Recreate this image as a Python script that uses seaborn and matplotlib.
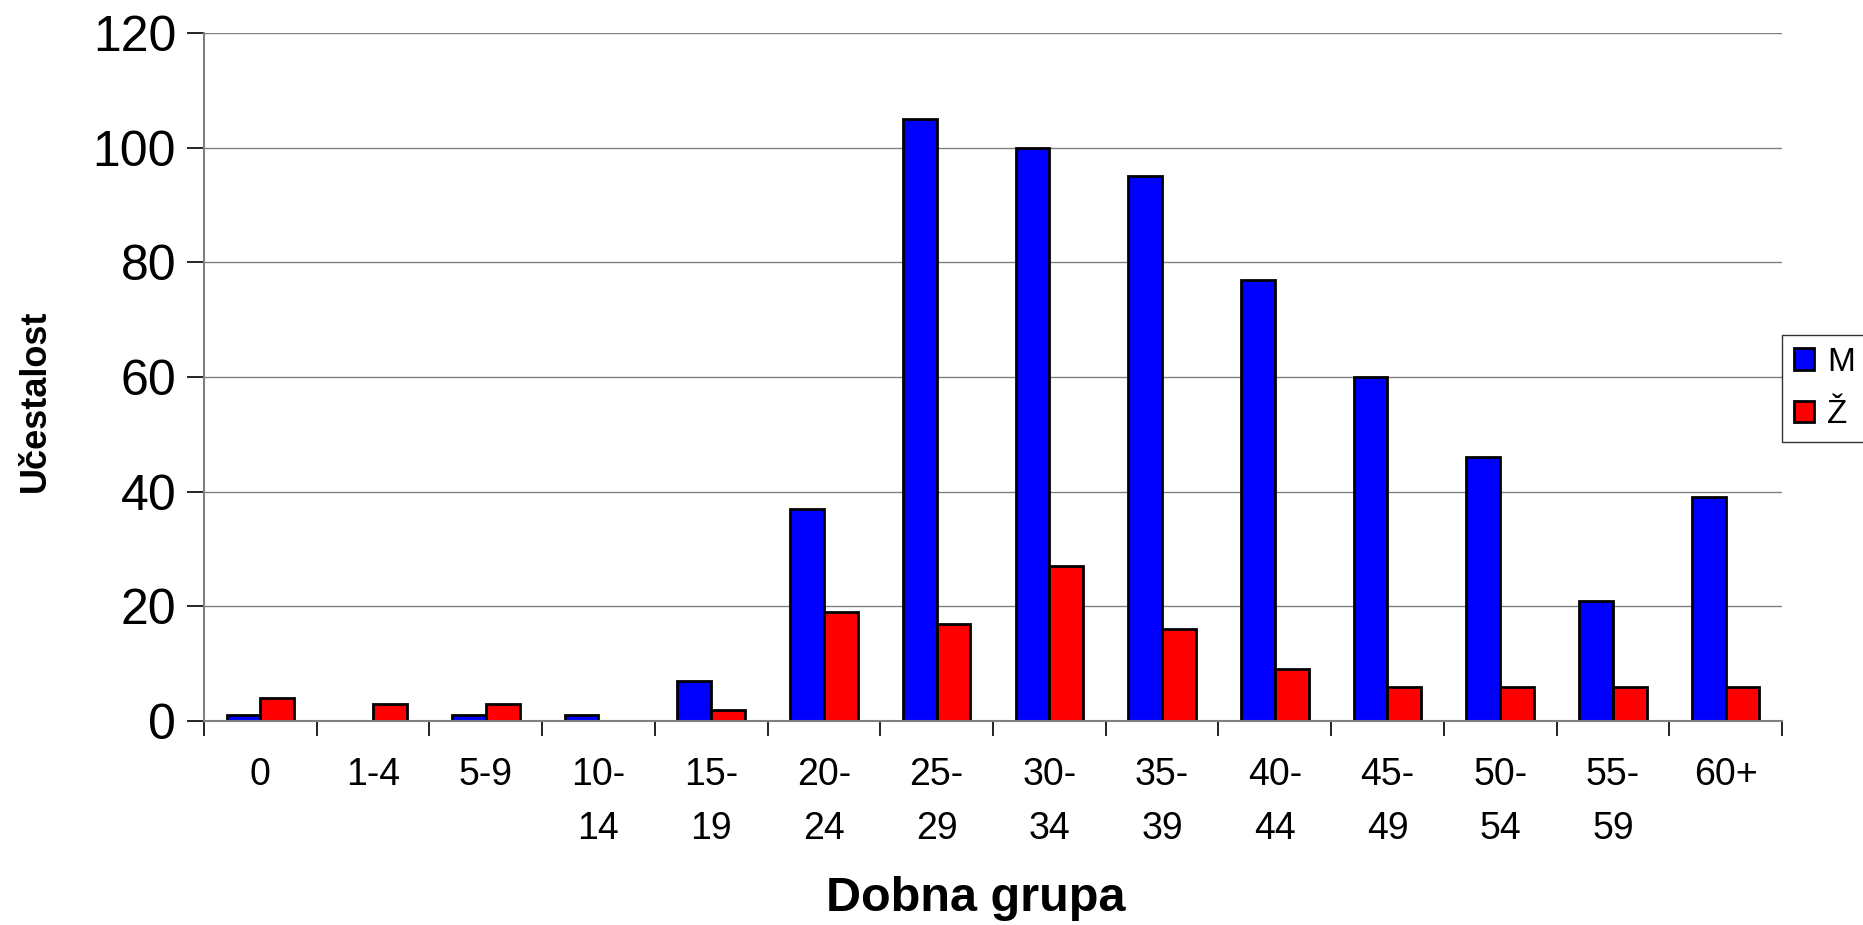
import matplotlib
matplotlib.use("Agg")
import matplotlib.pyplot as plt
import numpy as np
import pandas as pd
import seaborn as sns

# ── Data ─────────────────────────────────────────────────────────────────────
groups = ["0", "1-4", "5-9", "10-\n14", "15-\n19", "20-\n24", "25-\n29",
          "30-\n34", "35-\n39", "40-\n44", "45-\n49", "50-\n54", "55-\n59", "60+"]
male = [1, 0, 1, 1, 7, 37, 105, 100, 95, 77, 60, 46, 21, 39]
female = [4, 3, 3, 0, 2, 19, 17, 27, 16, 9, 6, 6, 6, 6]
series = ["M", "Ž"]
colors = ["#0000FF", "#FF0000"]

df = pd.DataFrame({
    "grupa": groups * 2,
    "spol": [series[0]] * len(groups) + [series[1]] * len(groups),
    "n": male + female,
})

sns.set_style("white")
plt.rcParams["font.family"] = ["Liberation Sans", "DejaVu Sans"]
plt.rcParams["text.color"] = "black"
plt.rcParams["axes.labelcolor"] = "black"
plt.rcParams["xtick.color"] = "black"
plt.rcParams["ytick.color"] = "black"

fig = plt.figure(figsize=(18.63, 9.25), dpi=100)
ax = fig.add_axes([0.1095, 0.2205, 0.847, 0.7438])

sns.barplot(data=df, x="grupa", y="n", hue="spol", order=groups,
            hue_order=series, palette=colors, width=0.6,
            edgecolor="black", linewidth=2, saturation=1, ax=ax)

ax.set_ylim(0, 120)
ax.set_xlim(-0.5, len(groups) - 0.5)
ax.set_yticks(np.arange(0, 121, 20))
ax.yaxis.grid(True, color="#808080", linewidth=1)
ax.set_axisbelow(True)

# ticks between categories on x
ax.set_xticks(np.arange(-0.5, len(groups), 1), minor=True)
ax.tick_params(axis="x", which="major", length=0, labelsize=27, pad=26)
ax.tick_params(axis="x", which="minor", length=11, width=1.2, color="black",
               direction="out", bottom=True)
ax.tick_params(axis="y", which="major", length=12, width=1.2, color="black",
               direction="out", left=True, labelsize=36, pad=8)
for lab in ax.get_xticklabels():
    lab.set_linespacing(1.65)

for s in ["top", "right"]:
    ax.spines[s].set_visible(False)
for s in ["left", "bottom"]:
    ax.spines[s].set_color("#808080")
    ax.spines[s].set_linewidth(1.5)

ax.set_xlabel("Dobna grupa", fontsize=35, fontweight="bold")
ax.set_ylabel("Učestalost", fontsize=26, fontweight="bold")
ax.xaxis.set_label_coords(0.489, -0.225)
ax.yaxis.set_label_coords(-0.096, 0.465)

handles, labels = ax.get_legend_handles_labels()
ax.legend(handles, labels, loc="center left",
          bbox_to_anchor=(0.9565, 0.580), bbox_transform=fig.transFigure,
          fontsize=24, frameon=True, fancybox=False, edgecolor="black",
          handlelength=0.6, handleheight=0.6, handletextpad=0.4,
          borderpad=0.35, labelspacing=0.65, borderaxespad=0)
ax.get_legend().get_frame().set_linewidth(1.0)

fig.savefig("out.png", dpi=100, facecolor="white")
